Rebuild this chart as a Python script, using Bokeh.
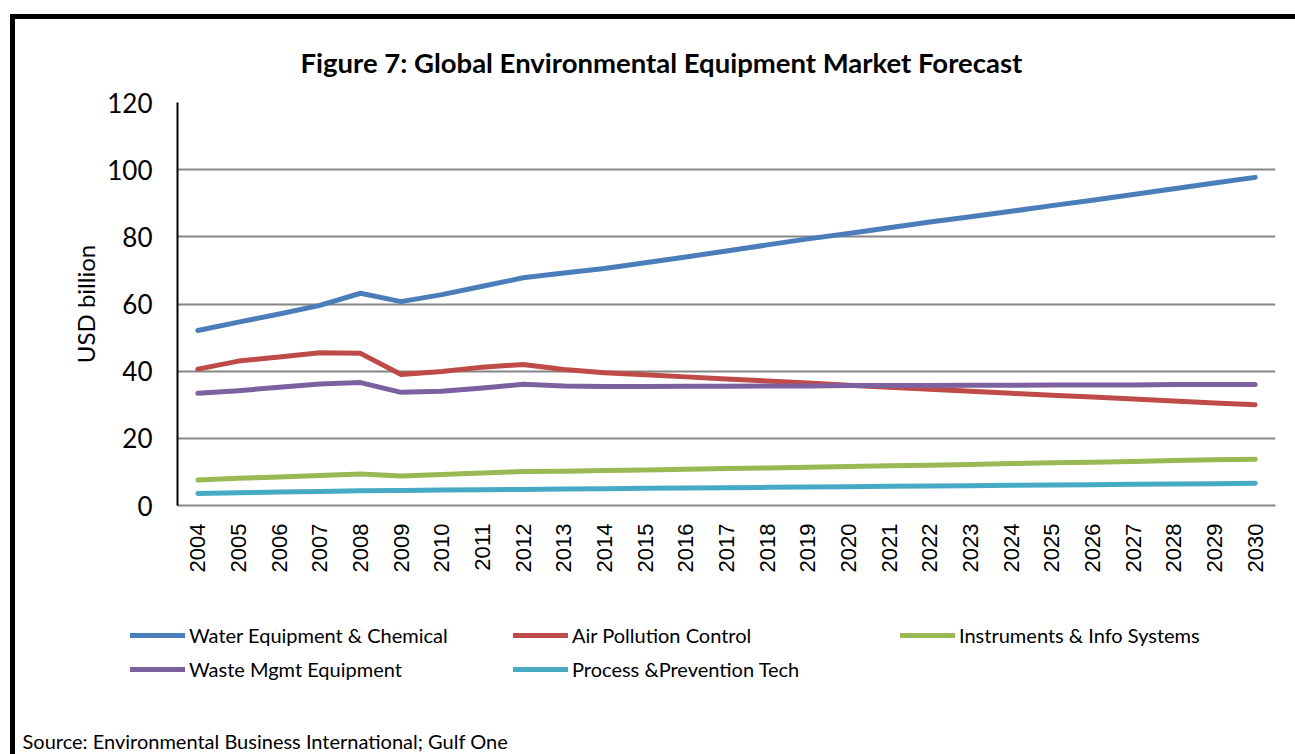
from bokeh.plotting import figure
from bokeh.layouts import column
from bokeh.models import Legend, LegendItem, Label, FactorRange, Range1d, SingleIntervalTicker
from bokeh.embed import file_html
from bokeh.resources import INLINE
import math

years = [str(y) for y in range(2004, 2031)]

water = [52.1, 54.6, 57.0, 59.6, 63.2, 60.7, 62.8, 65.3, 67.8, 69.2, 70.6, 72.3, 74.0,
         75.8, 77.6, 79.4, 81.0, 82.7, 84.4, 86.0, 87.6, 89.3, 90.9, 92.6, 94.3, 96.0, 97.7]
air = [40.6, 43.0, 44.2, 45.5, 45.3, 39.0, 39.9, 41.2, 42.0, 40.5, 39.5, 38.9, 38.3,
       37.7, 37.1, 36.5, 35.8, 35.2, 34.6, 34.0, 33.4, 32.8, 32.3, 31.7, 31.1, 30.5, 30.0]
instruments = [7.6, 8.1, 8.5, 8.9, 9.4, 8.8, 9.2, 9.7, 10.1, 10.2, 10.4, 10.6, 10.8,
               11.0, 11.2, 11.4, 11.6, 11.8, 12.0, 12.2, 12.5, 12.7, 12.9, 13.1, 13.4, 13.6, 13.8]
waste = [33.4, 34.2, 35.2, 36.2, 36.6, 33.7, 34.0, 35.0, 36.1, 35.6, 35.4, 35.4, 35.5,
         35.5, 35.6, 35.6, 35.7, 35.7, 35.7, 35.8, 35.8, 35.9, 35.9, 35.9, 36.0, 36.0, 36.0]
process = [3.6, 3.8, 4.0, 4.2, 4.4, 4.5, 4.6, 4.7, 4.8, 4.9, 5.0, 5.1, 5.2,
           5.3, 5.4, 5.5, 5.6, 5.7, 5.8, 5.9, 6.0, 6.1, 6.2, 6.3, 6.4, 6.5, 6.6]

series_names = ["Water Equipment & Chemical", "Air Pollution Control", "Instruments & Info Systems",
                "Waste Mgmt Equipment", "Process &Prevention Tech"]
series_values = [water, air, instruments, waste, process]
series_colors = ["#4A7EBB", "#BE4B48", "#98B954", "#7D60A0", "#46AAC5"]

title_text = "Figure 7: Global Environmental Equipment Market Forecast"
source_text = "Source: Environmental Business International; Gulf One"
y_label = "USD billion"

CAL = "Lato"

# ---- main chart ----
p = figure(width=1280, height=581, x_range=FactorRange(*years, range_padding=0),
           y_range=Range1d(0, 120), output_backend="svg", toolbar_location=None,
           min_border_left=162, min_border_right=20, min_border_top=83, min_border_bottom=95)
p.frame_align = False
p.outline_line_color = None
p.background_fill_color = "white"
p.border_fill_color = "white"

p.title.text = title_text
p.title.text_font = CAL
p.title.text_font_style = "bold"
p.title.text_font_size = "27.5px"
p.title.text_color = "black"
p.title.align = "left"
p.title.vertical_align = "top"
p.title.offset = 123
p.title.standoff = 44

p.xgrid.grid_line_color = None
p.ygrid.grid_line_color = "#868686"
p.ygrid.grid_line_width = 1.8

p.yaxis.ticker = SingleIntervalTicker(interval=20)
p.yaxis.major_tick_line_color = None
p.yaxis.minor_tick_line_color = None
p.yaxis.axis_line_color = "black"
p.yaxis.axis_line_width = 2
p.yaxis.major_label_text_font = CAL
p.yaxis.major_label_text_font_size = "26px"
p.yaxis.major_label_text_color = "black"
p.yaxis.major_label_standoff = 19
p.yaxis.axis_label = y_label
p.yaxis.axis_label_text_font = CAL
p.yaxis.axis_label_text_font_style = "normal"
p.yaxis.axis_label_text_font_size = "24px"
p.yaxis.axis_label_text_color = "black"
p.yaxis.axis_label_standoff = 4

p.xaxis.major_tick_line_color = None
p.xaxis.minor_tick_line_color = None
p.xaxis.axis_line_color = "#868686"
p.xaxis.axis_line_width = 2
p.xaxis.major_label_orientation = math.pi / 2
p.xaxis.major_label_text_font = "Liberation Sans"
p.xaxis.major_label_text_font_size = "22px"
p.xaxis.major_label_text_color = "black"
p.xaxis.major_label_standoff = 12

for name, vals, col in zip(series_names, series_values, series_colors):
    p.line(years, vals, line_color=col, line_width=5, line_cap="round", line_join="round")

# ---- legend + source area ----
q = figure(width=1280, height=154, x_range=Range1d(0, 1), y_range=Range1d(0, 1),
           output_backend="svg", toolbar_location=None,
           min_border_left=0, min_border_right=0, min_border_top=0, min_border_bottom=0)
q.frame_align = False
q.axis.visible = False
q.grid.visible = False
q.outline_line_color = None
q.background_fill_color = "white"
q.border_fill_color = "white"

leg_renderers = []
for name, col in zip(series_names, series_colors):
    # legend-key renderers only: their points lie outside the visible range
    r = q.line(x=[5, 6], y=[5, 6], line_color=col, line_width=5, line_cap="round")
    leg_renderers.append(r)

cols = [[0, 3], [1, 4], [2]]
col_x = [115, 498, 885]
for cx, idxs in zip(col_x, cols):
    items = [LegendItem(label=series_names[i], renderers=[leg_renderers[i]]) for i in idxs]
    n = len(idxs)
    h = 24 * n + 10 * (n - 1)
    lg = Legend(items=items, location=(cx, 154 - 23 - h), orientation="vertical",
                padding=0, margin=0, spacing=10, glyph_width=55, glyph_height=20,
                label_height=20, label_standoff=4, border_line_color=None,
                background_fill_alpha=0, label_text_font=CAL, label_text_font_size="20px",
                label_text_color="black")
    q.add_layout(lg)

q.add_layout(Label(x=7, y=14, x_units="screen", y_units="screen", text=source_text,
                   text_font=CAL, text_font_size="20px", text_align="left",
                   text_baseline="alphabetic", text_color="black"))

layout = column(p, q, spacing=0,
                styles={"border-left": "5px solid black", "border-top": "5px solid black",
                        "margin-left": "10px", "margin-top": "14px"})

open("out.html", "w").write(file_html(layout, INLINE))
